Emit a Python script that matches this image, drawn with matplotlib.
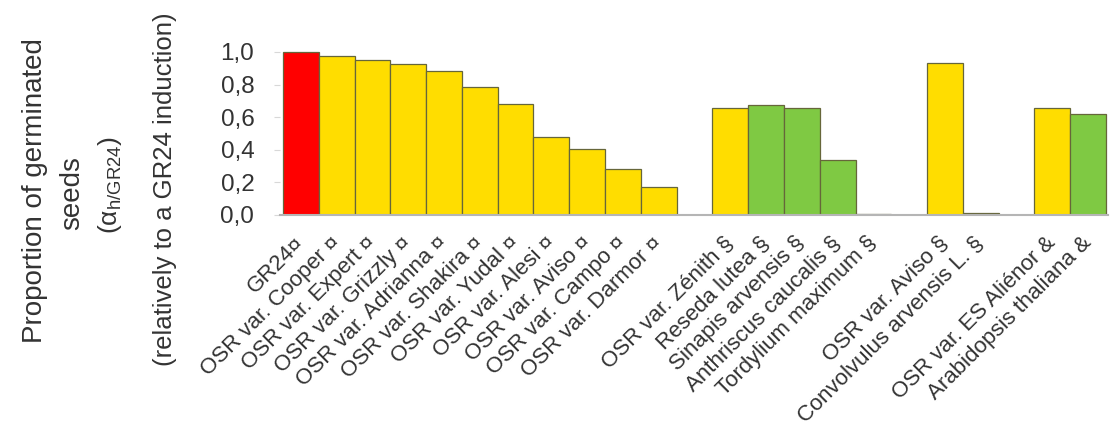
import numpy as np
import matplotlib
matplotlib.use("Agg")
import matplotlib.pyplot as plt

plt.rcParams['font.family'] = ['Liberation Sans', 'DejaVu Sans']
plt.rcParams['mathtext.default'] = 'regular'

# groups of bars, separated by one empty slot on the chart
group1_labels = ['GR24¤', 'OSR var. Cooper ¤', 'OSR var. Expert ¤', 'OSR var. Grizzly ¤',
                 'OSR var. Adrianna ¤', 'OSR var. Shakira ¤', 'OSR var. Yudal ¤',
                 'OSR var. Alesi ¤', 'OSR var. Aviso ¤', 'OSR var. Campo ¤', 'OSR var. Darmor ¤']
group1_values = [1.0, 0.976, 0.949, 0.924, 0.884, 0.786, 0.680, 0.476, 0.404, 0.280, 0.169]
group1_kind = ['ref', 'osr', 'osr', 'osr', 'osr', 'osr', 'osr', 'osr', 'osr', 'osr', 'osr']

group2_labels = ['OSR var. Zénith §', 'Reseda lutea §', 'Sinapis arvensis §',
                 'Anthriscus caucalis §', 'Tordylium maximum §']
group2_values = [0.654, 0.677, 0.654, 0.335, 0.006]
group2_kind = ['osr', 'weed', 'weed', 'weed', 'weed']

group3_labels = ['OSR var. Aviso §', 'Convolvulus arvensis L. §']
group3_values = [0.93, 0.014]
group3_kind = ['osr', 'weed']

group4_labels = ['OSR var. ES Aliénor &', 'Arabidopsis thaliana &']
group4_values = [0.654, 0.62]
group4_kind = ['osr', 'weed']

ytick_values = [0.0, 0.2, 0.4, 0.6, 0.8, 1.0]
ytick_labels = ['0,0', '0,2', '0,4', '0,6', '0,8', '1,0']

kind_colors = {'ref': '#FF0000', 'osr': '#FFDD00', 'weed': '#7FC943'}

groups = [(group1_labels, group1_values, group1_kind),
          (group2_labels, group2_values, group2_kind),
          (group3_labels, group3_values, group3_kind),
          (group4_labels, group4_values, group4_kind)]

xs, labels, values, colors = [], [], [], []
pos = 0
for g_labels, g_values, g_kind in groups:
    for lab, val, k in zip(g_labels, g_values, g_kind):
        xs.append(pos)
        labels.append(lab)
        values.append(val)
        colors.append(kind_colors[k])
        pos += 1
    pos += 1  # empty slot between groups

fig = plt.figure(figsize=(11.1, 4.3), dpi=100)
ax = fig.add_axes([280 / 1110, 0.5, 828 / 1110, 167 / 430])

ax.bar(xs, values, width=1.0, color=colors, edgecolor='#66663a', linewidth=0.9)

ax.set_xlim(-0.584, xs[-1] + 0.556)
ax.set_ylim(0, 1.0245)

ax.set_yticks(ytick_values)
ax.set_yticklabels(ytick_labels)
ax.tick_params(axis='y', length=4.5, width=0.8, color='#d8d8d8', pad=14,
               labelsize=17.5, labelcolor='#333333')

ax.set_xticks(xs)
ax.set_xticklabels(labels, rotation=45, ha='right', va='center',
                   rotation_mode='anchor', fontsize=16, color='#333333')
ax.tick_params(axis='x', length=0, pad=18)

for side in ['top', 'right', 'left']:
    ax.spines[side].set_visible(False)
ax.spines['bottom'].set_color('#b5b5b5')
ax.spines['bottom'].set_linewidth(1.5)

# y-axis titles
fig.text(35 / 1110, 1 - 191 / 430, 'Proportion of germinated', rotation=90,
         ha='center', va='center', fontsize=20, color='#333333')
fig.text(72 / 1110, 1 - 193 / 430, 'seeds', rotation=90,
         ha='center', va='center', fontsize=20, color='#333333')
fig.text(110 / 1110, 1 - 185 / 430, '(α$_{h/GR24}$)', rotation=90,
         ha='center', va='center', fontsize=19, color='#333333')
fig.text(165 / 1110, 1 - 189 / 430, '(relatively to a GR24 induction)', rotation=90,
         ha='center', va='center', fontsize=18.5, color='#333333')

fig.savefig('out.png', dpi=100)
